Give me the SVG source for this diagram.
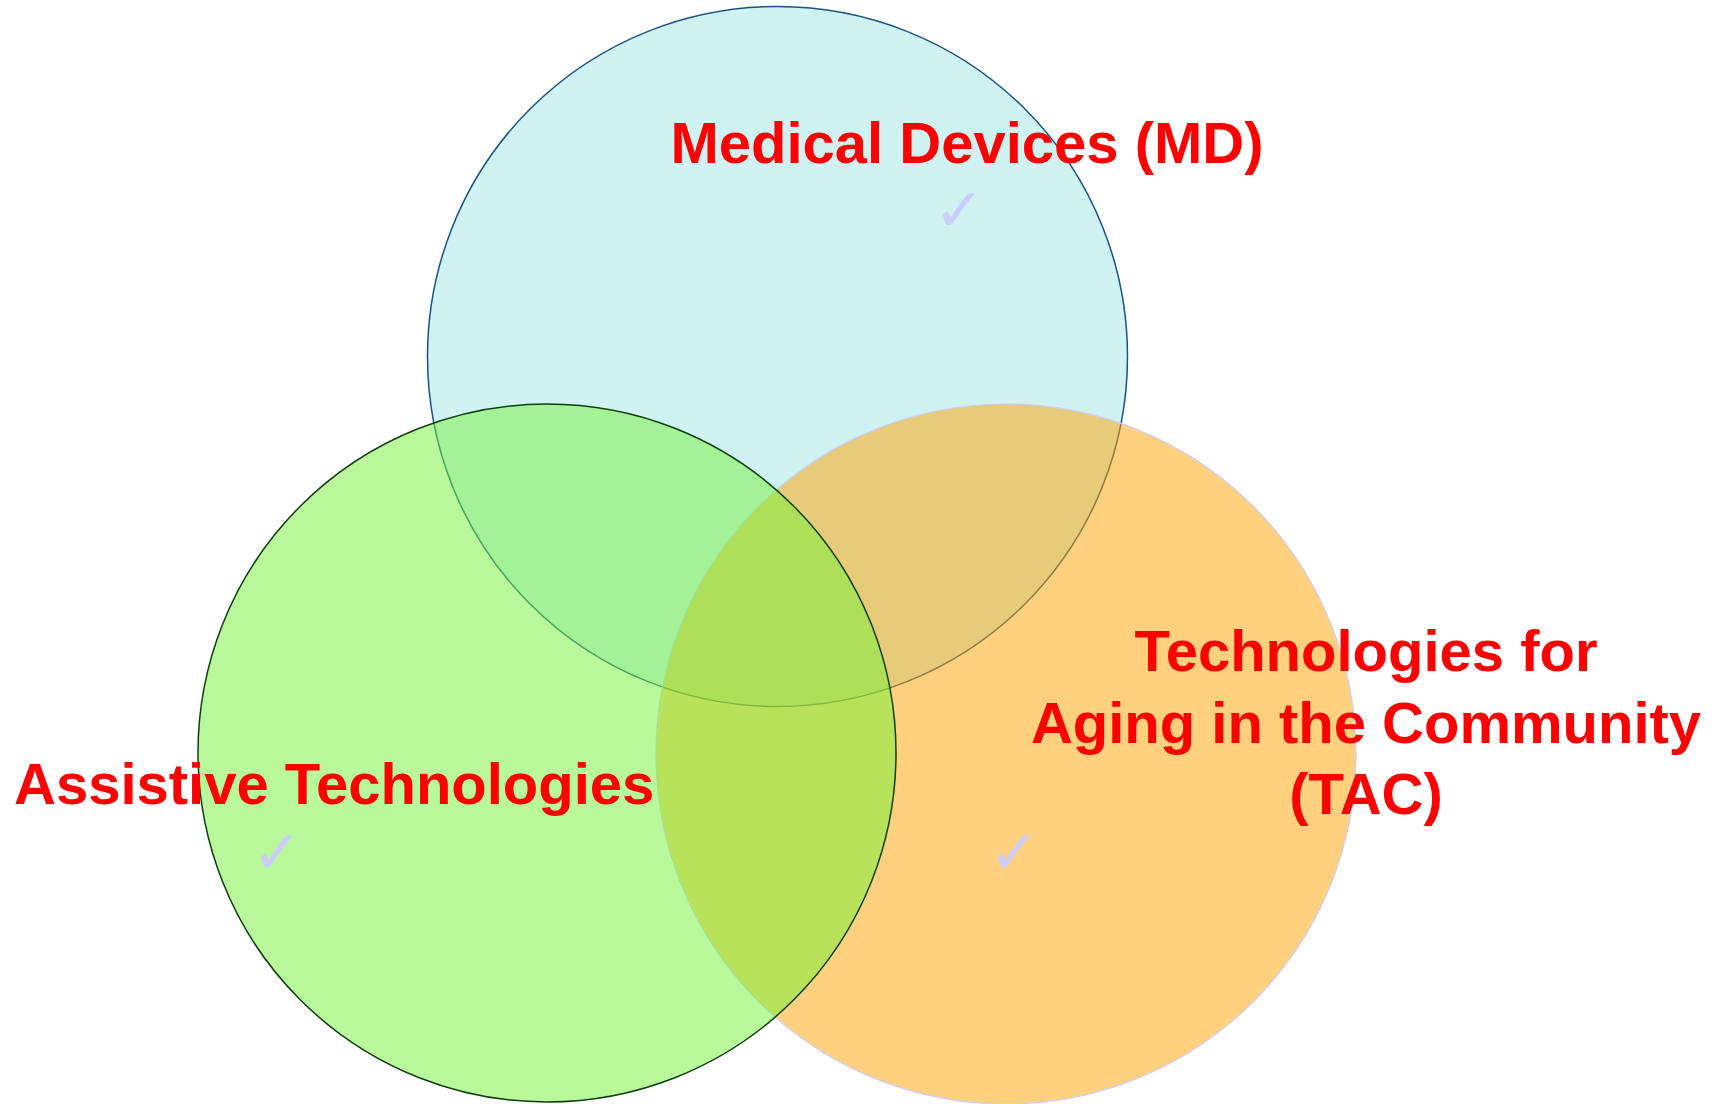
<svg xmlns="http://www.w3.org/2000/svg" width="1726" height="1104" viewBox="0 0 1726 1104">
<style>
.lbl{font-family:"Liberation Sans",Arial,sans-serif;font-weight:bold;font-size:58px;fill:#FF0000}
.chk{font-family:"DejaVu Sans",sans-serif;font-weight:bold;font-size:60px;fill:#CCCCFF}
</style>
<rect width="1726" height="1104" fill="#FFFFFF"/>
<g id="md">
<circle cx="777.5" cy="356.5" r="350" fill="#CFF2F2" stroke="#1A5288" stroke-width="1.5"/>
</g>
<g id="tac">
<circle cx="1006" cy="754" r="350" fill="#FFA400" fill-opacity="0.5" stroke="#CCCCFF" stroke-width="1.2"/>
</g>
<g id="at">
<circle cx="547" cy="753" r="349" fill="#73F337" fill-opacity="0.5" stroke="#0F3F0F" stroke-width="1.5"/>
</g>
<g id="labels">
<text class="lbl" x="967" y="163" text-anchor="middle">Medical Devices (MD)</text>
<text class="chk" x="934" y="231">✓</text>
<text class="lbl" x="14" y="804">Assistive Technologies</text>
<text class="chk" x="252" y="873">✓</text>
<text class="lbl" x="1366" y="671" text-anchor="middle">Technologies for</text>
<text class="lbl" x="1366" y="743" text-anchor="middle">Aging in the Community</text>
<text class="lbl" x="1366" y="814" text-anchor="middle">(TAC)</text>
<text class="chk" x="989" y="873">✓</text>
</g>
</svg>
